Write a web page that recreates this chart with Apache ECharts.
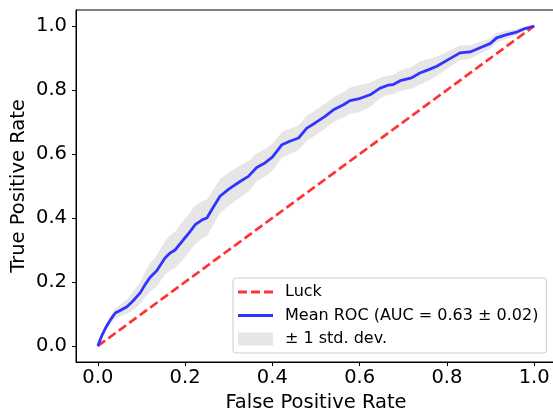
<!DOCTYPE html>
<html>
<head>
<meta charset="utf-8">
<script src="https://cdn.jsdelivr.net/npm/echarts@6/dist/echarts.min.js"></script>
<style>html,body{margin:0;padding:0;background:#fff}#c{width:553px;height:414px}</style>
</head>
<body>
<div id="c"></div>
<script>
var tickValues = [0, 0.2, 0.4, 0.6, 0.8, 1.0];
var luckX = [0, 1];
var luckY = [0, 1];
var fprX = [0,0.005,0.01,0.02,0.03,0.04,0.05,0.066,0.08,0.097,0.11,0.12,0.135,0.154,0.165,0.177,0.196,0.21,0.223,0.24,0.25,0.262,0.28,0.30,0.326,0.345,0.364,0.383,0.40,0.422,0.44,0.46,0.479,0.498,0.52,0.54,0.563,0.578,0.597,0.624,0.647,0.665,0.677,0.693,0.719,0.738,0.757,0.777,0.803,0.83,0.853,0.883,0.899,0.914,0.937,0.96,0.979,1.0];
var meanTpr = [0,0.018,0.035,0.062,0.084,0.103,0.11,0.122,0.14,0.166,0.195,0.215,0.235,0.275,0.29,0.30,0.332,0.355,0.379,0.395,0.40,0.428,0.468,0.49,0.514,0.53,0.558,0.572,0.59,0.629,0.64,0.65,0.681,0.697,0.717,0.738,0.754,0.767,0.772,0.785,0.806,0.815,0.817,0.829,0.838,0.853,0.863,0.874,0.895,0.916,0.919,0.936,0.945,0.963,0.973,0.981,0.992,1.0];
var lowerTpr = [0,0.013,0.027,0.052,0.071,0.087,0.092,0.100,0.112,0.132,0.155,0.170,0.187,0.223,0.235,0.243,0.272,0.295,0.319,0.337,0.343,0.373,0.415,0.438,0.464,0.483,0.514,0.529,0.548,0.589,0.601,0.611,0.642,0.658,0.678,0.699,0.714,0.726,0.730,0.747,0.774,0.785,0.787,0.797,0.804,0.817,0.829,0.844,0.869,0.893,0.898,0.918,0.928,0.948,0.960,0.971,0.986,1.0];
var upperTpr = [0,0.023,0.043,0.072,0.097,0.119,0.128,0.144,0.168,0.200,0.235,0.260,0.283,0.327,0.345,0.357,0.392,0.415,0.439,0.453,0.457,0.483,0.521,0.542,0.564,0.577,0.602,0.615,0.632,0.669,0.679,0.689,0.720,0.736,0.756,0.777,0.794,0.808,0.814,0.823,0.838,0.845,0.847,0.861,0.872,0.889,0.897,0.904,0.921,0.939,0.940,0.954,0.962,0.978,0.986,0.991,0.998,1.0];

var FONT = 'DejaVu Sans';
function pairs(xs, ys) { return xs.map(function (x, i) { return [x, ys[i]]; }); }
var bandData = fprX.map(function (x, i) { return [x, lowerTpr[i], upperTpr[i]]; });

var dashIcon = 'path://M0,0M35,13M0,5h9v3h-9zM13,5h9v3h-9zM26,5h9v3h-9z';
var solidIcon = 'path://M0,0M35,13M0,5h35v3h-35z';

var chart = echarts.init(document.getElementById('c'), null, {renderer: 'canvas'});
chart.setOption({
  animation: false,
  backgroundColor: '#fff',
  grid: {left: 76, top: 10, width: 480, height: 352, outerBoundsMode: 'none', containLabel: false,
         show: true, borderColor: '#000', borderWidth: 1, backgroundColor: 'transparent'},
  xAxis: {
    type: 'value', min: -0.05, max: 1.05,
    name: 'False Positive Rate', nameLocation: 'middle', nameGap: 28,
    nameTextStyle: {fontFamily: FONT, fontSize: 19.5, color: '#000'},
    axisLine: {show: true, onZero: false, lineStyle: {color: '#000', width: 1}},
    axisTick: {show: true, inside: false, length: 4, customValues: tickValues, lineStyle: {color: '#000', width: 1}},
    axisLabel: {customValues: tickValues, margin: 6, fontFamily: FONT, fontSize: 19.5, color: '#000', formatter: function (v) { return v.toFixed(1); }},
    splitLine: {show: false}
  },
  yAxis: {
    type: 'value', min: -0.05, max: 1.05,
    name: 'True Positive Rate', nameLocation: 'middle', nameGap: 47, nameMoveOverlap: false,
    nameTextStyle: {fontFamily: FONT, fontSize: 19.5, color: '#000'},
    axisLine: {show: true, onZero: false, lineStyle: {color: '#000', width: 1}},
    axisTick: {show: true, inside: false, length: 4, customValues: tickValues, lineStyle: {color: '#000', width: 1}},
    axisLabel: {customValues: tickValues, margin: 9, fontFamily: FONT, fontSize: 19.5, color: '#000', formatter: function (v) { return v.toFixed(1); }},
    splitLine: {show: false}
  },
  legend: {
    orient: 'vertical', left: 233, top: 278,
    backgroundColor: 'rgba(255,255,255,0.8)', borderColor: '#cccccc', borderWidth: 1, borderRadius: 3,
    padding: [5, 8, 5, 5], itemWidth: 35, itemHeight: 13, itemGap: 5.5,
    textStyle: {fontFamily: FONT, fontSize: 16, color: '#000', lineHeight: 18, padding: [0, 0, 0, 7]},
    data: [
      {name: 'Luck', icon: dashIcon, itemStyle: {color: '#ff3333', borderWidth: 0}},
      {name: 'Mean ROC (AUC = 0.63 ± 0.02)', icon: solidIcon, itemStyle: {color: '#3333ff', borderWidth: 0}},
      {name: '± 1 std. dev.', icon: 'rect', itemStyle: {color: '#e6e6e6', borderWidth: 0}}
    ]
  },
  series: [
    {
      name: '± 1 std. dev.', type: 'custom', data: bandData, color: '#e6e6e6',
      encode: {x: 0, y: [1, 2]}, silent: true, z: 1,
      renderItem: function (params, api) {
        if (params.dataIndex !== 0) { return null; }
        var pts = [];
        for (var i = 0; i < fprX.length; i++) { pts.push(api.coord([fprX[i], upperTpr[i]])); }
        for (var j = fprX.length - 1; j >= 0; j--) { pts.push(api.coord([fprX[j], lowerTpr[j]])); }
        return {type: 'polygon', shape: {points: pts}, style: {fill: '#e6e6e6', stroke: null}};
      }
    },
    {
      name: 'Luck', type: 'line', data: pairs(luckX, luckY), symbol: 'none', color: '#ff3333',
      lineStyle: {color: '#ff3333', width: 2.7, type: [9, 4]}, z: 3
    },
    {
      name: 'Mean ROC (AUC = 0.63 ± 0.02)', type: 'line', data: pairs(fprX, meanTpr), symbol: 'none', color: '#3333ff',
      lineStyle: {color: '#3333ff', width: 2.8}, z: 4
    }
  ]
});
</script>
</body>
</html>
